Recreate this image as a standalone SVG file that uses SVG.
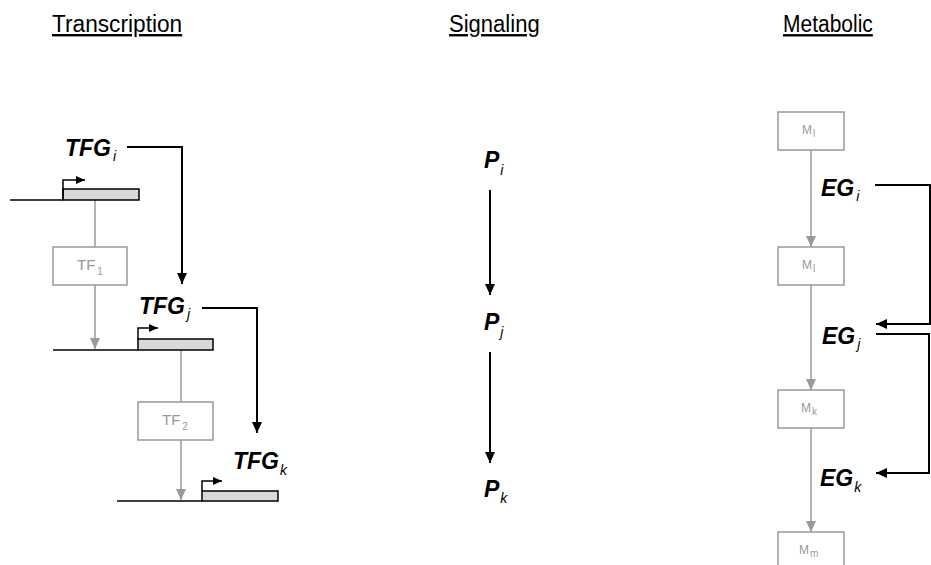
<svg xmlns="http://www.w3.org/2000/svg" width="931" height="565" viewBox="0 0 931 565">
<style>
.title{font-family:"Liberation Sans",Arial,sans-serif;font-size:21px;fill:#000;text-decoration:underline}
.gene{font-family:"Liberation Sans",Arial,sans-serif;font-size:23px;font-weight:bold;font-style:italic;fill:#000}
.sub{font-size:14px;font-weight:normal;font-style:italic}
.box{fill:#fff;stroke:#999;stroke-width:1.5}
.btxt{font-family:"Liberation Sans",Arial,sans-serif;font-size:15px;fill:#999}
.mtxt{font-family:"Liberation Sans",Arial,sans-serif;font-size:12px;fill:#999}
.bsub{font-size:10px}
.blk{fill:none;stroke:#000;stroke-width:2}
.gry{fill:none;stroke:#999;stroke-width:1.5}
.dna{fill:none;stroke:#000;stroke-width:1.5}
.genebox{fill:#d9d9d9;stroke:#000;stroke-width:1.5}
</style>
<defs>
<marker id="ab" markerUnits="userSpaceOnUse" markerWidth="12" markerHeight="10" refX="11" refY="5" orient="auto"><path d="M0,0 L11,5 L0,10 Z" fill="#000"/></marker>
<marker id="ag" markerUnits="userSpaceOnUse" markerWidth="12" markerHeight="10" refX="11" refY="5" orient="auto"><path d="M0,0 L11,5 L0,10 Z" fill="#999"/></marker>
<marker id="ap" markerUnits="userSpaceOnUse" markerWidth="10" markerHeight="8" refX="9" refY="4" orient="auto"><path d="M0,0 L9,4 L0,8 Z" fill="#000"/></marker>
</defs>

<g id="titles">
<text class="title" transform="translate(52,32) scale(1.08,1.12)">Transcription</text>
<text class="title" transform="translate(449,32) scale(1.05,1.12)">Signaling</text>
<text class="title" transform="translate(783,32) scale(1,1.12)">Metabolic</text>
</g>

<g id="connectors">
<path class="blk" d="M127,147 H182 V284" marker-end="url(#ab)"/>
<path class="blk" d="M202,308 H257 V433" marker-end="url(#ab)"/>
<path class="gry" d="M95,200 V247"/>
<path class="gry" d="M95,285 V349" marker-end="url(#ag)"/>
<path class="gry" d="M181,350 V402"/>
<path class="gry" d="M181,440 V500" marker-end="url(#ag)"/>
<path class="blk" d="M490,190 V295" marker-end="url(#ab)"/>
<path class="blk" d="M490,352 V463" marker-end="url(#ab)"/>
<path class="gry" d="M811,150 V247" marker-end="url(#ag)"/>
<path class="gry" d="M811,285 V390" marker-end="url(#ag)"/>
<path class="gry" d="M811,428 V532" marker-end="url(#ag)"/>
<path class="blk" d="M875,185 H930 V324 H876" marker-end="url(#ab)"/>
<path class="blk" d="M876,334 H929 V473 H876" marker-end="url(#ab)"/>
</g>

<g id="gene1">
<path class="dna" d="M10,200 H63"/>
<rect class="genebox" x="63" y="189" width="76" height="11"/>
<path class="dna" d="M63,200 V180 H85" marker-end="url(#ap)"/>
</g>
<g id="gene2">
<path class="dna" d="M53,350 H138"/>
<rect class="genebox" x="138" y="339" width="75" height="11"/>
<path class="dna" d="M138,340 V328 H158" marker-end="url(#ap)"/>
</g>
<g id="gene3">
<path class="dna" d="M117,501 H202"/>
<rect class="genebox" x="202" y="491" width="76" height="10"/>
<path class="dna" d="M202,491 V481 H222" marker-end="url(#ap)"/>
</g>

<g id="TFGi"><text class="gene" x="65" y="156">TFG<tspan class="sub" dx="2" dy="5">i</tspan></text></g>
<g id="TFGj"><text class="gene" x="139" y="314">TFG<tspan class="sub" dx="2" dy="5">j</tspan></text></g>
<g id="TFGk"><text class="gene" x="233" y="469">TFG<tspan class="sub" dx="1" dy="6">k</tspan></text></g>

<g id="TF1"><rect class="box" x="53" y="247" width="74" height="38"/><text class="btxt" x="77" y="270">TF<tspan class="bsub" dx="2" dy="5">1</tspan></text></g>
<g id="TF2"><rect class="box" x="138" y="402" width="75" height="38"/><text class="btxt" x="162" y="425">TF<tspan class="bsub" dx="2" dy="5">2</tspan></text></g>

<g id="Pi"><text class="gene" x="484" y="168">P<tspan class="sub" dx="1" dy="7">i</tspan></text></g>
<g id="Pj"><text class="gene" x="484" y="330">P<tspan class="sub" dx="1" dy="7">j</tspan></text></g>
<g id="Pk"><text class="gene" x="484" y="497">P<tspan class="sub" dx="1" dy="6">k</tspan></text></g>

<g id="M1"><rect class="box" x="778" y="112" width="66" height="38"/><text class="mtxt" x="802" y="134">M<tspan class="bsub" dx="1" dy="3">l</tspan></text></g>
<g id="M2"><rect class="box" x="778" y="247" width="66" height="38"/><text class="mtxt" x="802" y="269">M<tspan class="bsub" dx="1" dy="3">l</tspan></text></g>
<g id="Mk"><rect class="box" x="778" y="390" width="66" height="38"/><text class="mtxt" x="801" y="412">M<tspan class="bsub" dx="1" dy="3">k</tspan></text></g>
<g id="Mm"><rect class="box" x="778" y="532" width="66" height="40"/><text class="mtxt" x="799" y="554">M<tspan class="bsub" dx="1" dy="3">m</tspan></text></g>

<g id="EGi"><text class="gene" x="821" y="196">EG<tspan class="sub" dx="2" dy="5">i</tspan></text></g>
<g id="EGj"><text class="gene" x="822" y="344">EG<tspan class="sub" dx="2" dy="5">j</tspan></text></g>
<g id="EGk"><text class="gene" x="820" y="486">EG<tspan class="sub" dx="1" dy="6">k</tspan></text></g>
</svg>
